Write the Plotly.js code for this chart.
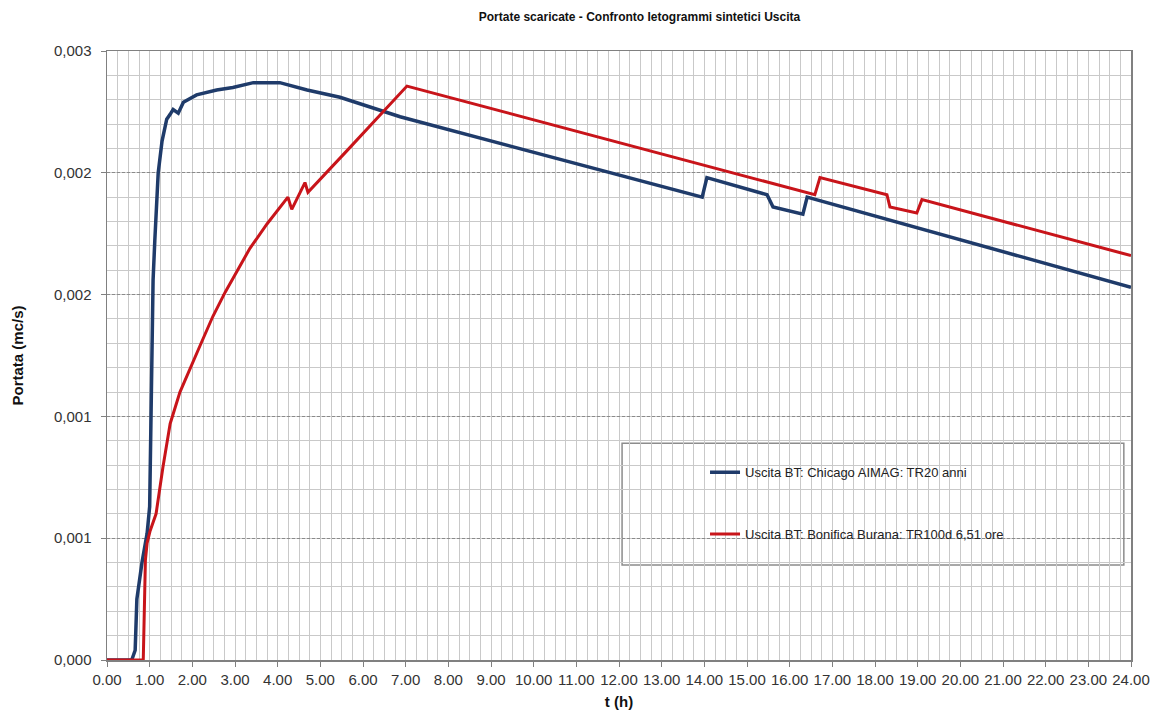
<!DOCTYPE html>
<html>
<head>
<meta charset="utf-8">
<script src="https://cdn.plot.ly/plotly-3.0.1.min.js"></script>
<style>
  html, body { margin: 0; padding: 0; background: #ffffff; }
  #chart { width: 1156px; height: 713px; }
</style>
</head>
<body>
<div id="chart"></div>
<script>
// Series: Uscita BT: Chicago AIMAG: TR20 anni (time in hours, flow in mc/s)
const tChicago = [0, 0.58, 0.66, 0.70, 0.82, 0.94, 1.00, 1.03, 1.08, 1.12, 1.20, 1.29, 1.40, 1.48, 1.55, 1.67, 1.79, 2.10, 2.57, 2.95, 3.43, 4.05, 4.69, 5.46, 6.16, 6.87, 13.95, 14.06, 15.47, 15.61, 16.31, 16.41, 24.0];
const qChicago = [0, 0, 0.00004, 0.00025, 0.00040, 0.00052, 0.00063, 0.00100, 0.00156, 0.00172, 0.00200, 0.00213, 0.00222, 0.00224, 0.00226, 0.002245, 0.00229, 0.00232, 0.00234, 0.00235, 0.00237, 0.00237, 0.00234, 0.00231, 0.00227, 0.00223, 0.00190, 0.00198, 0.00191, 0.00186, 0.00183, 0.00190, 0.00153];

// Series: Uscita BT: Bonifica Burana: TR100d 6,51 ore
const tBurana = [0, 0.85, 0.90, 0.94, 1.01, 1.15, 1.31, 1.48, 1.71, 1.90, 2.18, 2.48, 2.77, 3.35, 3.75, 4.24, 4.33, 4.64, 4.71, 5.62, 7.03, 16.59, 16.71, 18.28, 18.35, 18.98, 19.10, 24.0];
const qBurana = [0, 0, 0.00041, 0.00048, 0.00053, 0.00060, 0.00079, 0.00097, 0.00110, 0.00118, 0.00129, 0.00141, 0.00151, 0.00169, 0.00179, 0.00190, 0.00185, 0.00196, 0.00192, 0.00209, 0.002356, 0.00191, 0.00198, 0.00191, 0.00186, 0.001835, 0.00189, 0.00166];

const seriesNames = ["Uscita BT: Chicago AIMAG: TR20 anni", "Uscita BT: Bonifica Burana: TR100d 6,51 ore"];

// Axis ticks
const yTickVals = [0, 0.0005, 0.001, 0.0015, 0.002, 0.0025];
const yTickText = ["0,000", "0,001", "0,001", "0,002", "0,002", "0,003"];
const xTickVals = [0,1,2,3,4,5,6,7,8,9,10,11,12,13,14,15,16,17,18,19,20,21,22,23,24];
const xTickText = ["0.00","1.00","2.00","3.00","4.00","5.00","6.00","7.00","8.00","9.00","10.00","11.00","12.00","13.00","14.00","15.00","16.00","17.00","18.00","19.00","20.00","21.00","22.00","23.00","24.00"];

const FONT = "Liberation Sans, Arial, sans-serif";

const traces = [
  {
    x: tChicago, y: qChicago, type: "scatter", mode: "lines",
    name: seriesNames[0], legendgroup: "a",
    line: { color: "#1f3b6a", width: 3.5 }
  },
  {
    x: tBurana, y: qBurana, type: "scatter", mode: "lines",
    name: seriesNames[1], legendgroup: "b",
    line: { color: "#c8141a", width: 3 }
  }
];

const layout = {
  width: 1156, height: 713,
  margin: { l: 107, r: 25, t: 51, b: 53 },
  paper_bgcolor: "#ffffff",
  plot_bgcolor: "#ffffff",
  font: { family: FONT, color: "#333333", size: 15 },
  title: {
    text: "Portate scaricate - Confronto Ietogrammi sintetici Uscita",
    font: { family: FONT, size: 12, color: "#111111", weight: "bold" },
    x: 0.52, xref: "paper", xanchor: "center",
    y: 0.976, yref: "container", yanchor: "middle"
  },
  xaxis: {
    range: [0, 24],
    tickmode: "array", tickvals: xTickVals, ticktext: xTickText,
    ticks: "outside", ticklen: 5, tickcolor: "#808080",
    tickfont: { family: FONT, size: 15, color: "#333333" },
    showline: true, linecolor: "#808080", linewidth: 1.5, mirror: true,
    showgrid: true, gridcolor: "#c9c9c9", gridwidth: 1,
    zeroline: false,
    minor: { tickmode: "linear", tick0: 0, dtick: 0.25, showgrid: true, gridcolor: "#c9c9c9", gridwidth: 1, griddash: "solid" },
    title: { text: "t (h)", font: { family: FONT, size: 15, color: "#111111", weight: "bold" }, standoff: 10 }
  },
  yaxis: {
    range: [0, 0.0025],
    tickmode: "array", tickvals: yTickVals, ticktext: yTickText,
    ticks: "outside", ticklen: 5, tickcolor: "#808080",
    ticklabelstandoff: 6,
    tickfont: { family: FONT, size: 15, color: "#333333" },
    showline: true, linecolor: "#808080", linewidth: 1.5, mirror: true,
    showgrid: true, gridcolor: "#8a8a8a", gridwidth: 1, griddash: "3px,2px",
    zeroline: false,
    minor: { tickmode: "linear", tick0: 0, dtick: 0.0001, showgrid: true, gridcolor: "#c9c9c9", gridwidth: 1, griddash: "solid" },
    title: { text: "Portata (mc/s)", font: { family: FONT, size: 15, color: "#111111", weight: "bold" }, standoff: 26 }
  },
  shapes: [
    {
      type: "rect", xref: "paper", yref: "paper", layer: "between",
      x0: 0.503, x1: 0.993, y0: 0.156, y1: 0.356,
      fillcolor: "#ffffff", line: { color: "#8c8c8c", width: 1.5 }
    }
  ],
  showlegend: true,
  legend: {
    x: 0.584, xanchor: "left", y: 0.333, yanchor: "top",
    bgcolor: "rgba(0,0,0,0)", borderwidth: 0,
    font: { family: FONT, size: 13, color: "#222222" },
    traceorder: "grouped", tracegroupgap: 42,
    itemwidth: 30
  }
};

Plotly.newPlot("chart", traces, layout, { displayModeBar: false, staticPlot: true });
</script>
</body>
</html>
